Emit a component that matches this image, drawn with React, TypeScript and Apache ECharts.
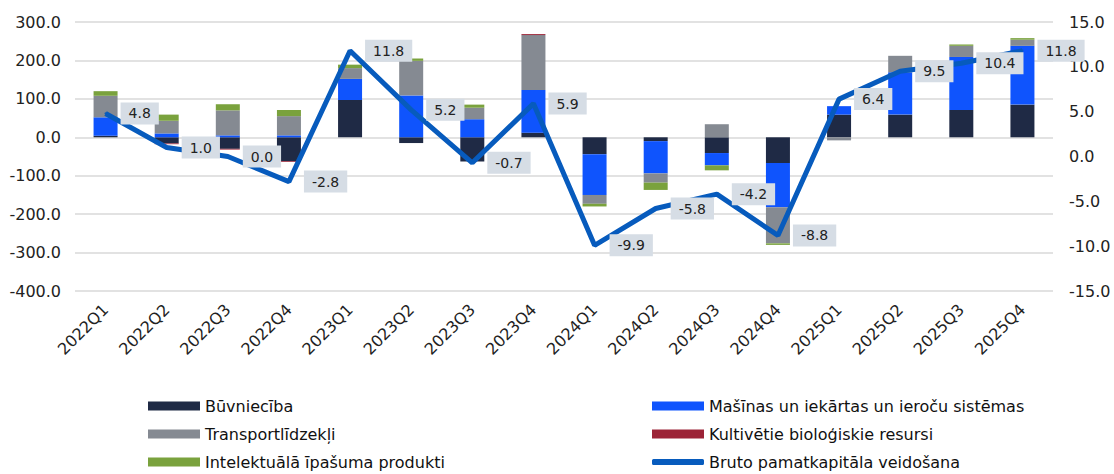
import React, { useEffect, useRef } from "react";
import * as echarts from "echarts";

const categories = [
  "2022Q1", "2022Q2", "2022Q3", "2022Q4",
  "2023Q1", "2023Q2", "2023Q3", "2023Q4",
  "2024Q1", "2024Q2", "2024Q3", "2024Q4",
  "2025Q1", "2025Q2", "2025Q3", "2025Q4",
];

const buvnieciba = [4, -16, -30, -62, 97, -15, -63, 12, -44, -10, -41, -67, 59, 59, 71, 85];
const masinas = [48, 10, 5, 5, 55, 109, 47, 111, -106, -84, -32, -115, 22, 110, 138, 153];
const transports = [56, 33, 65, 50, 28, 90, 30, 143, -23, -24, 34, -94, -8, 43, 29, 16];
const kultivetie = [0, -2, -2, -2, 0, 0, 0, 2.5, 0, 0, 0, 0, 0, 0, 0, 0];
const intelektuala = [12, 16, 16, 16, 9, 6, 8, 0, -7, -19, -13, -4, 0, 0, 3.5, 4];
const bruto = [4.8, 1.0, 0.0, -2.8, 11.8, 5.2, -0.7, 5.9, -9.9, -5.8, -4.2, -8.8, 6.4, 9.5, 10.4, 11.8];

const names = [
  "Būvniecība",
  "Mašīnas un iekārtas un ieroču sistēmas",
  "Transportlīdzekļi",
  "Kultivētie bioloģiskie resursi",
  "Intelektuālā īpašuma produkti",
  "Bruto pamatkapitāla veidošana",
];

const colors = ["#1f2a45", "#0f54fd", "#858a92", "#9c2336", "#7aa23d", "#075bbd"];

export default function App() {
  const ref = useRef<HTMLDivElement>(null);

  useEffect(() => {
    if (!ref.current) return;
    const chart = echarts.init(ref.current, null, { renderer: "svg" });
    const font = "DejaVu Sans";
    const barData = [buvnieciba, masinas, transports, kultivetie, intelektuala];

    const barSeries = barData.map((d, i) => ({
      name: names[i],
      type: "bar",
      stack: "total",
      barWidth: 24,
      data: d,
      itemStyle: { color: colors[i] },
      z: 2,
    }));

    const legendPos = [
      { left: 148, top: 398 },
      { left: 652, top: 398 },
      { left: 148, top: 426 },
      { left: 652, top: 426 },
      { left: 148, top: 454 },
      { left: 652, top: 454 },
    ];

    const legends = names.map((n, i) => ({
      data: [n],
      left: legendPos[i].left,
      top: legendPos[i].top,
      padding: 0,
      itemWidth: 52,
      itemHeight: i === 5 ? 6 : 9,
      icon: i === 5 ? "roundRect" : "rect",
      selectedMode: false,
      textStyle: {
        fontFamily: font,
        fontSize: 16,
        color: "#111",
      },
    }));

    chart.setOption({
      animation: false,
      color: colors,
      legend: legends,
      grid: { left: 75, right: 61, top: 22, bottom: 183, containLabel: false },
      xAxis: {
        type: "category",
        data: categories,
        axisLine: { show: false },
        axisTick: { show: false },
        axisLabel: {
          rotate: 45,
          margin: 16,
          interval: 0,
          fontFamily: font,
          fontSize: 16,
          color: "#222",
        },
      },
      yAxis: [
        {
          type: "value",
          min: -400,
          max: 300,
          interval: 100,
          axisLine: { show: false },
          axisTick: { show: false },
          splitLine: { lineStyle: { color: "#d9d9d9", width: 1.5 } },
          axisLabel: {
            margin: 14,
            fontFamily: font,
            fontSize: 16,
            color: "#222",
            formatter: (v: number) => v.toFixed(1),
          },
        },
        {
          type: "value",
          min: -15,
          max: 15,
          interval: 5,
          axisLine: { show: false },
          axisTick: { show: false },
          splitLine: { show: false },
          axisLabel: {
            margin: 16,
            fontFamily: font,
            fontSize: 16,
            color: "#222",
            formatter: (v: number) => v.toFixed(1),
          },
        },
      ],
      series: [
        ...barSeries,
        {
          name: names[5],
          type: "line",
          yAxisIndex: 1,
          data: bruto,
          symbol: "circle",
          symbolSize: 2,
          itemStyle: { color: colors[5] },
          lineStyle: { color: colors[5], width: 5 },
          z: 5,
          label: {
            show: true,
            position: "right",
            distance: 14,
            formatter: (p: any) => Number(p.value).toFixed(1),
            backgroundColor: "#d6dde5",
            padding: [4, 8],
            fontFamily: font,
            fontSize: 14,
            color: "#222",
          },
        },
      ],
    });

    return () => chart.dispose();
  }, []);

  return (
    <div
      ref={ref}
      style={{ position: "fixed", left: 0, top: 0, width: 1114, height: 474, background: "#fff" }}
    />
  );
}
